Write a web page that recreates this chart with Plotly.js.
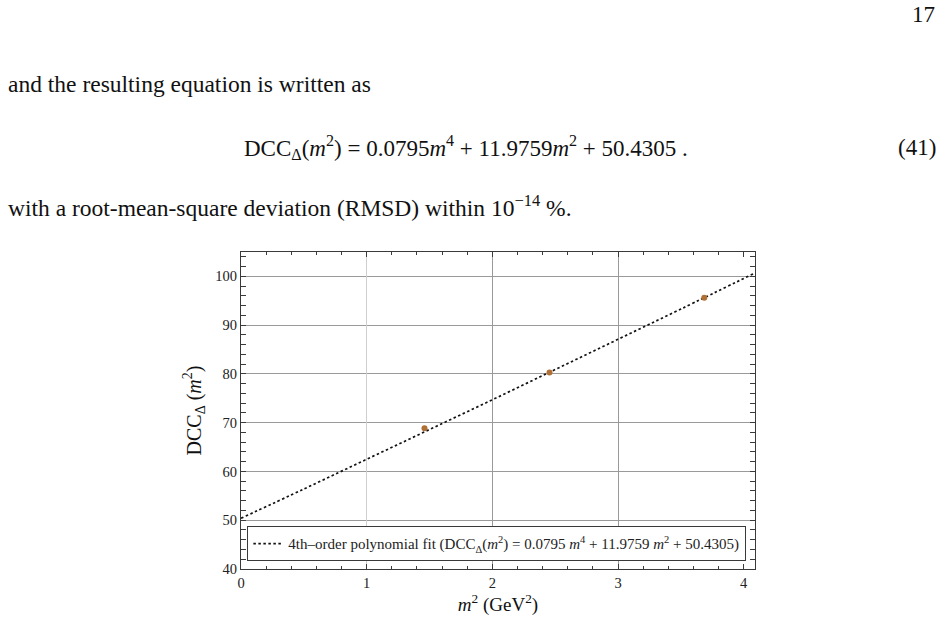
<!DOCTYPE html>
<html>
<head>
<meta charset="utf-8">
<script src="https://cdn.plot.ly/plotly-3.0.1.min.js"></script>
<style>
  html, body { margin: 0; padding: 0; background: #fff; }
  #chart { width: 945px; height: 620px; }
</style>
</head>
<body>
<div id="chart"></div>
<script>
// Page text around the figure
const PAGE_NUMBER = "17";
const INTRO_TEXT = "and the resulting equation is written as";
const EQUATION_TEXT =
  "DCC<sub>Δ</sub>(<i>m</i><sup>2</sup>) = 0.0795<i>m</i><sup>4</sup> + 11.9759<i>m</i><sup>2</sup> + 50.4305 .";
const EQUATION_NUMBER = "(41)";
const OUTRO_TEXT = "with a root-mean-square deviation (RMSD) within 10<sup>−14</sup> %.";

// Resonance points (m^2 in GeV^2, DCC value)
const pointM2 = [1.46, 2.455, 3.686];
const pointDCC = [68.85, 80.27, 95.63];

// Fit curve
const fitM2 = [0, 0.5, 1, 1.5, 2, 2.5, 3, 3.5, 4.09];
const fitDCC = [50.4, 56.4, 62.5, 68.6, 74.7, 80.9, 87.1, 93.3, 100.7];

const xTicks = [0, 1, 2, 3, 4];
const yTicks = [40, 50, 60, 70, 80, 90, 100];
const xRange = [0, 4.09];
const yRange = [40, 105];

const FIT_LABEL =
  "4th–order polynomial fit (DCC<sub>Δ</sub>(<i>m</i><sup>2</sup>) = 0.0795 <i>m</i><sup>4</sup> + 11.9759 <i>m</i><sup>2</sup> + 50.4305)";

const SERIF = "Liberation Serif, Times New Roman, serif";
const FRAME = "#3a3a3a";
const GRID_DARK = "#9a9a9a";
const GRID_LIGHT = "#cfcfcf";

// plot box in page pixels, used to place the page text in paper coords
const BOX = { left: 241, right: 755, top: 252, bottom: 569 };
const px2x = (px) => (px - BOX.left) / (BOX.right - BOX.left);
const px2y = (py) => (BOX.bottom - py) / (BOX.bottom - BOX.top);

const pageText = (text, px, py, xanchor, size = 23.5) => ({
  text,
  xref: "paper",
  yref: "paper",
  x: px2x(px),
  y: px2y(py),
  xanchor,
  yanchor: "middle",
  showarrow: false,
  font: { family: SERIF, size, color: "#111" },
});

const frameAxis = (overrides = {}) => ({
  showline: true,
  linecolor: FRAME,
  linewidth: 1.2,
  mirror: "allticks",
  ticks: "inside",
  ticklen: 5,
  tickcolor: FRAME,
  tickwidth: 1,
  zeroline: false,
  tickfont: { family: SERIF, size: 14.5, color: "#222" },
  ...overrides,
});

// extra overlay axes only to get the two grid shades on x
const gridAxis = (vals, color) => ({
  overlaying: "x",
  range: xRange,
  tickmode: "array",
  tickvals: vals,
  showticklabels: false,
  ticks: "",
  showgrid: true,
  gridcolor: color,
  gridwidth: 1,
  zeroline: false,
  showline: false,
});

const data = [
  {
    type: "scatter",
    mode: "lines",
    name: FIT_LABEL,
    x: fitM2,
    y: fitDCC,
    line: { color: "#111", width: 1.7, dash: "2.5px,2.5px", shape: "spline" },
    hoverinfo: "skip",
  },
  {
    type: "scatter",
    mode: "markers",
    name: "data",
    showlegend: false,
    xaxis: "x2",
    x: pointM2,
    y: pointDCC,
    marker: { color: "#b06f35", size: 6 },
  },
  {
    // empty trace so the light x grid axis gets drawn
    type: "scatter",
    mode: "markers",
    showlegend: false,
    xaxis: "x3",
    x: [],
    y: [],
  },
];

const layout = {
  width: 945,
  height: 620,
  margin: { l: BOX.left, r: 945 - BOX.right, t: BOX.top, b: 620 - BOX.bottom },
  paper_bgcolor: "#fff",
  plot_bgcolor: "#fff",
  font: { family: SERIF, color: "#111" },
  showlegend: true,
  legend: {
    x: 0.012,
    y: 0.025,
    xanchor: "left",
    yanchor: "bottom",
    bgcolor: "#fff",
    bordercolor: FRAME,
    borderwidth: 1.2,
    font: { family: SERIF, size: 15, color: "#222" },
    itemwidth: 30,
  },
  xaxis: frameAxis({
    range: xRange,
    tickmode: "array",
    tickvals: xTicks,
    showgrid: false,
    minor: { dtick: 0.2, ticks: "inside", ticklen: 3, tickcolor: FRAME },
    automargin: false,
    title: {
      text: "<i>m</i><sup>2</sup> (GeV<sup>2</sup>)",
      font: { family: SERIF, size: 19, color: "#111" },
      standoff: 0,
    },
  }),
  xaxis2: gridAxis([2, 3], GRID_DARK),
  xaxis3: gridAxis([1], GRID_LIGHT),
  yaxis: frameAxis({
    range: yRange,
    tickmode: "array",
    tickvals: yTicks,
    showgrid: true,
    gridcolor: GRID_DARK,
    gridwidth: 1,
    minor: { dtick: 2, ticks: "inside", ticklen: 3, tickcolor: FRAME },
    automargin: false,
    title: {
      text: "DCC<sub>Δ</sub> (<i>m</i><sup>2</sup>)",
      font: { family: SERIF, size: 20, color: "#111" },
      standoff: 8,
    },
  }),
  annotations: [
    pageText(PAGE_NUMBER, 937, 14, "right", 23),
    pageText(INTRO_TEXT, 6, 84, "left"),
    pageText(EQUATION_TEXT, 242, 147, "left", 23),
    pageText(EQUATION_NUMBER, 938, 147, "right", 23),
    pageText(OUTRO_TEXT, 6, 206, "left"),
  ],
};

Plotly.newPlot("chart", data, layout, { staticPlot: true, displayModeBar: false });
</script>
</body>
</html>
